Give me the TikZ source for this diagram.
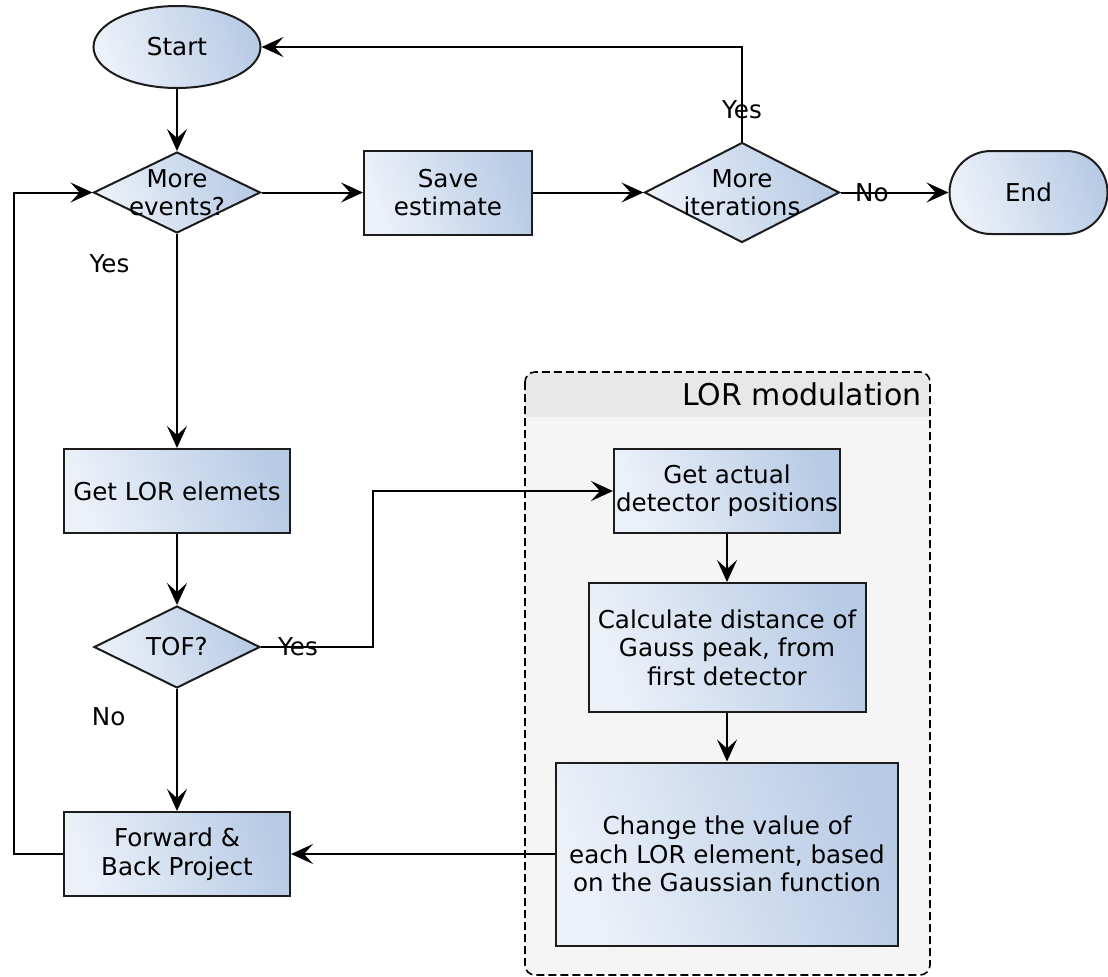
\documentclass[tikz,border=0pt]{standalone}
\usepackage{fontspec}
\setmainfont{DejaVu Sans}
\usetikzlibrary{arrows.meta,shapes.geometric,shapes.misc}

\definecolor{boxlight}{RGB}{236,241,249}
\definecolor{boxdark}{RGB}{184,203,229}
\definecolor{groupfill}{RGB}{245,245,245}
\definecolor{grouphead}{RGB}{232,232,232}
\definecolor{edgecol}{RGB}{28,28,28}

\tikzset{
  txt/.style={font=\fontsize{12.3}{14.2}\selectfont},
  base/.style={txt, draw=edgecol, line width=1pt, left color=boxlight, right color=boxdark,
    shading angle=110, inner sep=0pt, align=center},
  process/.style={base, rectangle},
  decision/.style={base, diamond},
  terminal/.style={base, ellipse},
  stopbox/.style={base, rounded rectangle},
  dlabel/.style={txt, align=center, inner sep=0pt},
  line/.style={line width=1pt, -{Stealth[length=11pt,width=10pt,inset=4.5pt]}},
}

\begin{document}
\begin{tikzpicture}[x=0.5pt,y=-0.5pt]
\useasboundingbox (0,0) rectangle (1108,976);

% LOR modulation group
\begin{scope}
  \clip[rounded corners=5pt] (525,372) rectangle (930,975);
  \fill[groupfill] (525,372) rectangle (930,975);
  \fill[grouphead] (525,372) rectangle (930,417);
\end{scope}
\draw[line width=0.8pt, dash pattern=on 4pt off 2pt, rounded corners=5pt] (525,372) rectangle (930,975);
\node[anchor=east, font=\fontsize{15}{18}\selectfont, inner sep=0pt] (grouptitle) at (922,394) {LOR modulation};

% top row
\node[terminal, minimum width=83.5pt, minimum height=41pt] (start) at (177,47) {Start};
\node[decision, minimum width=83.5pt, minimum height=40.5pt,
  label={[dlabel]center:More\\events?}] (events) at (177,192.5) {};
\node[process, minimum width=84pt, minimum height=42pt] (save) at (448,192.5) {Save\\estimate};
\node[decision, minimum width=97.5pt, minimum height=50pt,
  label={[dlabel]center:More\\iterations}] (iter) at (742,192.5) {};
\node[stopbox, minimum width=79pt, minimum height=41.5pt] (finish) at (1028.5,192.5) {End};

% left column
\node[process, minimum width=113pt, minimum height=42pt] (lor) at (177,491) {Get LOR elemets};
\node[decision, minimum width=83pt, minimum height=41pt,
  label={[dlabel]center:TOF?}] (tof) at (177,647) {};
\node[process, minimum width=113pt, minimum height=42pt] (proj) at (177,854) {Forward \&\\Back Project};

% inside the group
\node[process, minimum width=113pt, minimum height=42pt] (actual) at (727,491) {Get actual\\detector positions};
\node[process, minimum width=138.5pt, minimum height=64.5pt] (dist) at (727,647.5) {Calculate distance of\\Gauss peak, from\\first detector};
\node[process, minimum width=171pt, minimum height=91.5pt] (change) at (727,854) {Change the value of\\each LOR element, based\\on the Gaussian function};

\coordinate (tofbend) at (373,647);
\coordinate (loopleft) at (14,854);

% connectors
\draw[line] (start) -- (events);
\draw[line] (events) -- (save);
\draw[line] (save) -- (iter);
\draw[line] (iter) -- node[txt, pos=0.29] {No} (finish);
\draw[line] (iter) |- node[txt, pos=0.17] {Yes} (start);
\draw[line] (events) -- node[txt, pos=0.14, left=20pt] {Yes} (lor);
\draw[line] (lor) -- (tof);
\draw[line] (tof) -- node[txt, pos=0.33] {Yes} (tofbend) |- (actual);
\draw[line] (tof) -- node[txt, pos=0.23, left=22pt] {No} (proj);
\draw[line] (proj) -- (loopleft) |- (events);
\draw[line] (actual) -- (dist);
\draw[line] (dist) -- (change);
\draw[line] (change) -- (proj);

\end{tikzpicture}
\end{document}
